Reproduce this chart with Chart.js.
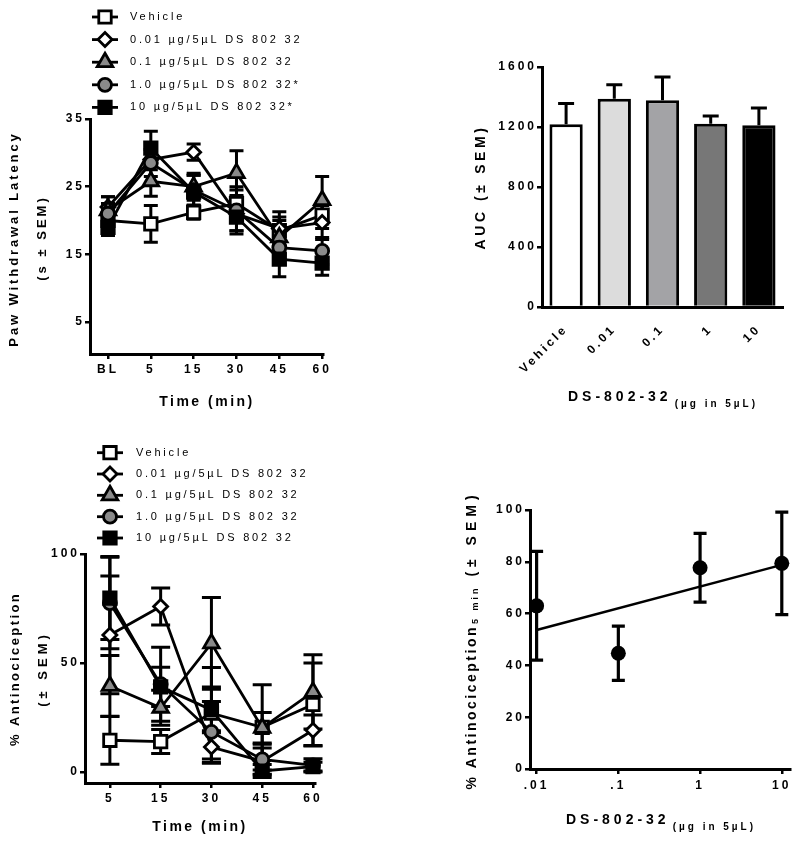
<!DOCTYPE html>
<html><head><meta charset="utf-8">
<script src="https://cdn.jsdelivr.net/npm/chart.js@4.4.1/dist/chart.umd.min.js"></script>
<style>
html,body{margin:0;padding:0;background:#fff}
body{width:800px;height:844px;position:relative;overflow:hidden}
.p{position:absolute}
</style></head><body>
<div class="p" style="left:0;top:0;width:400px;height:420px"><canvas id="c1"></canvas></div>
<div class="p" style="left:400px;top:0;width:400px;height:420px"><canvas id="c2"></canvas></div>
<div class="p" style="left:0;top:420px;width:400px;height:424px"><canvas id="c3"></canvas></div>
<div class="p" style="left:400px;top:420px;width:400px;height:424px"><canvas id="c4"></canvas></div>
<script>
// ---------------- DATA ----------------
const timeLabelsA = ['BL', '5', '15', '30', '45', '60'];
const timeLabelsC = ['5', '15', '30', '45', '60'];
const seriesNamesA = ['Vehicle', '0.01 µg/5µL DS 802 32', '0.1 µg/5µL DS 802 32', '1.0 µg/5µL DS 802 32*', '10 µg/5µL DS 802 32*'];
const seriesNamesC = ['Vehicle', '0.01 µg/5µL DS 802 32', '0.1 µg/5µL DS 802 32', '1.0 µg/5µL DS 802 32', '10 µg/5µL DS 802 32'];

// Panel A: paw withdrawal latency (s)
const pwlVehicle = [20.0, 19.5, 21.2, 22.5, 18.5, 20.8];
const pwlVehicleSem = [1.5, 2.7, 1.0, 2.5, 2.0, 2.0];
const pwl001 = [22.0, 29.0, 30.1, 21.0, 18.8, 19.7];
const pwl001Sem = [1.5, 1.5, 1.2, 2.5, 2.5, 2.5];
const pwl01 = [21.5, 25.8, 25.0, 27.0, 17.5, 23.0];
const pwl01Sem = [2.0, 2.2, 2.0, 3.3, 2.5, 3.5];
const pwl1 = [21.0, 28.5, 24.5, 21.5, 16.0, 15.5];
const pwl1Sem = [1.5, 2.0, 2.2, 3.0, 2.5, 2.0];
const pwl10 = [19.0, 30.7, 24.2, 20.5, 14.3, 13.7];
const pwl10Sem = [1.2, 2.5, 2.5, 2.5, 2.6, 1.8];

// Panel B: AUC
const aucLabels = ['Vehicle', '0.01', '0.1', '1', '10'];
const aucValues = [1218, 1389, 1378, 1222, 1211];
const aucSem = [138, 93, 155, 51, 116];

// Panel C: % antinociception
const mpeVehicle = [14.6, 14.0, 27.0, 20.5, 31.0];
const mpeVehicleSem = [11, 5.5, 21, 19.5, 19];
const mpe001 = [62.9, 75.9, 11.5, 5.0, 19.2];
const mpe001Sem = [27, 8.5, 7.5, 6, 7];
const mpe01 = [39.5, 29.5, 59.0, 20.3, 36.8];
const mpe01Sem = [14, 8, 21, 7, 17];
const mpe1 = [77.5, 40.3, 18.4, 5.8, 3.1];
const mpe1Sem = [21, 17, 14, 7, 3];
const mpe10 = [79.8, 39.1, 28.5, 0.5, 2.5];
const mpe10Sem = [19, 9, 10.5, 3, 2];

// Panel D: dose response at 5 min
const doses = [0.01, 0.1, 1, 10];
const doseTickLabels = ['.01', '.1', '1', '10'];
const mpe5 = [63.0, 44.7, 77.7, 79.4];
const mpe5Sem = [21, 10.5, 13.3, 19.8];
const fitDoses = [0.01, 10];
const fitValues = [53.7, 78.8];

// ---------------- STYLES ----------------
const FAM = '"Liberation Sans", Arial, Helvetica, sans-serif';
Chart.defaults.font.family = FAM;
Chart.defaults.color = '#000';
Chart.defaults.animation = false;

const markerStyles = [
  {pointStyle: 'rect', radius: 8.8, bg: '#ffffff'},
  {pointStyle: 'rectRot', radius: 7, bg: '#ffffff'},
  {pointStyle: 'triangle', radius: 9, bg: '#8a8a8a'},
  {pointStyle: 'circle', radius: 6.5, bg: '#8a8a8a'},
  {pointStyle: 'rect', radius: 8.8, bg: '#000000'}
];
const barColors = ['#ffffff', '#dcdcdc', '#a3a3a6', '#777777', '#000000'];

function drawMarker(ctx, st, x, y) {
  const r = st.radius;
  ctx.save();
  ctx.fillStyle = st.bg; ctx.strokeStyle = '#000'; ctx.lineWidth = 2.8;
  ctx.beginPath();
  if (st.pointStyle === 'circle') ctx.arc(x, y, r, 0, Math.PI * 2);
  else if (st.pointStyle === 'rect') { const s = r * Math.SQRT1_2; ctx.rect(x - s, y - s, 2 * s, 2 * s); }
  else if (st.pointStyle === 'rectRot') { ctx.moveTo(x - r, y); ctx.lineTo(x, y - r); ctx.lineTo(x + r, y); ctx.lineTo(x, y + r); ctx.closePath(); }
  else if (st.pointStyle === 'triangle') {
    for (let k = 0; k < 3; k++) { const a = k * 2 * Math.PI / 3; const px = x + Math.sin(a) * r, py = y - Math.cos(a) * r; k ? ctx.lineTo(px, py) : ctx.moveTo(px, py); }
    ctx.closePath();
  }
  ctx.fill(); ctx.stroke(); ctx.restore();
}

function txt(ctx, s, x, y, o) {
  ctx.save();
  ctx.font = o.font; ctx.fillStyle = '#000';
  if ('letterSpacing' in ctx) ctx.letterSpacing = (o.ls || 0) + 'px';
  ctx.textBaseline = o.base || 'middle';
  ctx.textAlign = o.align || 'left';
  ctx.translate(x, y); if (o.rot) ctx.rotate(o.rot);
  ctx.fillText(s, 0, 0);
  ctx.restore();
}
function measure(ctx, s, o) {
  ctx.save(); ctx.font = o.font; if ('letterSpacing' in ctx) ctx.letterSpacing = (o.ls || 0) + 'px';
  const w = ctx.measureText(s).width; ctx.restore(); return w;
}
function parts(ctx, list, cx, cy, rot) {
  const widths = list.map(p => measure(ctx, p.s, p));
  const total = widths.reduce((a, b) => a + b, 0) + list.reduce((a, p) => a + (p.gap || 0), 0);
  ctx.save(); ctx.translate(cx, cy); if (rot) ctx.rotate(rot);
  let x = -total / 2;
  list.forEach((p, i) => { x += (p.gap || 0); txt(ctx, p.s, x, p.dy || 0, Object.assign({}, p, {align: 'left'})); x += widths[i]; });
  ctx.restore();
}

const errPlugin = {
  id: 'errbars',
  beforeDatasetsDraw(chart) { drawErr(chart, false); },
  afterDatasetsDraw(chart) { drawErr(chart, true); }
};
function drawErr(chart, after) {
  const ctx = chart.ctx;
  chart.data.datasets.forEach((ds, di) => {
    if (!ds.errors || !!ds.errAfter !== after) return;
    const meta = chart.getDatasetMeta(di);
    const ys = chart.scales[meta.yAxisID];
    ctx.save(); ctx.strokeStyle = '#000'; ctx.lineWidth = ds.errWidth || 3; ctx.lineCap = 'butt';
    meta.data.forEach((el, i) => {
      const e = ds.errors[i]; if (e == null) return;
      const v = meta.controller.getParsed(i).y;
      const x = el.x, cap = ds.errCap || 7;
      const yT = ys.getPixelForValue(v + e);
      const yB = ds.errUpOnly ? ys.getPixelForValue(v) : ys.getPixelForValue(v - e);
      ctx.beginPath();
      ctx.moveTo(x, yT); ctx.lineTo(x, yB);
      ctx.moveTo(x - cap, yT); ctx.lineTo(x + cap, yT);
      if (!ds.errUpOnly) { ctx.moveTo(x - cap, yB); ctx.lineTo(x + cap, yB); }
      ctx.stroke();
    });
    ctx.restore();
  });
}
const spacingPlugin = { id: 'spacing', beforeDraw(chart) { if ('letterSpacing' in chart.ctx) chart.ctx.letterSpacing = '3px'; } };

const tickFont = {size: 12, weight: 'bold'};
function axisGrid(len) { return {display: true, drawOnChartArea: false, drawTicks: true, tickLength: len, color: '#000', lineWidth: 2.5}; }
const axisBorder = {display: true, color: '#000', width: 3};

function timeDatasets(names, vals, sems, capW) {
  return vals.map((arr, k) => ({
    label: names[k],
    data: arr.map((v, i) => ({x: i, y: v})),
    errors: sems[k], errCap: capW,
    borderColor: '#000', borderWidth: 2.8, tension: 0, fill: false, clip: false,
    pointStyle: markerStyles[k].pointStyle, pointRadius: markerStyles[k].radius,
    pointBackgroundColor: markerStyles[k].bg, pointBorderColor: '#000', pointBorderWidth: 2.8,
    order: vals.length - k
  }));
}
function legendPlugin(names, rows, mx, lx1, lx2, tx) {
  return { id: 'lg', afterDraw(chart) {
    const ctx = chart.ctx;
    names.forEach((n, k) => {
      const y = rows[k];
      ctx.save(); ctx.strokeStyle = '#000'; ctx.lineWidth = 2.8;
      ctx.beginPath(); ctx.moveTo(lx1, y); ctx.lineTo(lx2, y); ctx.stroke(); ctx.restore();
      drawMarker(ctx, markerStyles[k], mx, y);
      txt(ctx, n, tx, y, {font: '11px ' + FAM, ls: 2.8});
    });
  }};
}

// ---------------- PANEL A ----------------
new Chart(document.getElementById('c1'), {
  type: 'line',
  data: { datasets: timeDatasets(seriesNamesA, [pwlVehicle, pwl001, pwl01, pwl1, pwl10], [pwlVehicleSem, pwl001Sem, pwl01Sem, pwl1Sem, pwl10Sem], 7) },
  options: {
    responsive: true, maintainAspectRatio: false,
    layout: {padding: {left: 0, top: 119, right: 77, bottom: 0}},
    plugins: {legend: {display: false}, tooltip: {enabled: false}},
    scales: {
      x: { type: 'linear', min: -0.42, max: 5.02,
        afterBuildTicks: s => { s.ticks = timeLabelsA.map((_, i) => ({value: i})); },
        ticks: {callback: v => timeLabelsA[Math.round(v)], font: tickFont, padding: 3, maxRotation: 0, autoSkip: false},
        grid: axisGrid(5), border: axisBorder, afterFit: s => { s.height = 66; } },
      y: { type: 'linear', min: 0.27, max: 35,
        afterBuildTicks: s => { s.ticks = [5, 15, 25, 35].map(v => ({value: v})); },
        ticks: {font: tickFont, padding: 0, callback: v => String(v)},
        grid: axisGrid(5), border: axisBorder, afterFit: s => { s.width = 90; } }
    }
  },
  plugins: [spacingPlugin, errPlugin, legendPlugin(seriesNamesA, [17, 39.6, 62.2, 84.8, 107.4], 105, 92, 118, 130), {
    id: 'titlesA', afterDraw(chart) {
      const ctx = chart.ctx;
      parts(ctx, [{s: 'Paw Withdrawal Latency', font: 'bold 13px ' + FAM, ls: 2.9}], 14, 239, -Math.PI / 2);
      parts(ctx, [{s: '(s ± SEM)', font: 'bold 13px ' + FAM, ls: 3}], 42, 238, -Math.PI / 2);
      parts(ctx, [{s: 'Time (min)', font: 'bold 14px ' + FAM, ls: 2.5}], 207, 402, 0);
    }
  }]
});

// ---------------- PANEL B ----------------
new Chart(document.getElementById('c2'), {
  type: 'bar',
  data: { labels: aucLabels, datasets: [{
    data: aucValues, errors: aucSem, errUpOnly: true, errAfter: true, errCap: 8, errWidth: 3,
    backgroundColor: barColors, borderColor: '#000', borderWidth: 3, borderSkipped: 'bottom',
    barPercentage: 0.69, categoryPercentage: 1
  }]},
  options: {
    responsive: true, maintainAspectRatio: false,
    layout: {padding: {left: 0, top: 67, right: 17, bottom: 0}},
    plugins: {legend: {display: false}, tooltip: {enabled: false}},
    scales: {
      x: { grid: {display: false}, border: axisBorder,
        ticks: {font: {size: 12, weight: 'bold'}, minRotation: 45, maxRotation: 45, autoSkip: false, padding: 7},
        afterFit: s => { s.height = 113; } },
      y: { min: 0, max: 1600, ticks: {stepSize: 400, font: {size: 12, weight: 'bold'}, padding: 0, callback: v => String(v)},
        grid: axisGrid(5), border: axisBorder, afterFit: s => { s.width = 142; } }
    }
  },
  plugins: [spacingPlugin, errPlugin, {
    id: 'titlesB', afterDraw(chart) {
      const ctx = chart.ctx;
      parts(ctx, [{s: 'AUC (± SEM)', font: 'bold 14px ' + FAM, ls: 3.6}], 81, 187, -Math.PI / 2);
      parts(ctx, [{s: 'DS-802-32', font: 'bold 14px ' + FAM, ls: 4}, {s: '(µg in 5µL)', font: 'bold 10px ' + FAM, ls: 3, gap: 3, dy: 7}], 263, 397, 0);
    }
  }]
});

// ---------------- PANEL C ----------------
new Chart(document.getElementById('c3'), {
  type: 'line',
  data: { datasets: timeDatasets(seriesNamesC, [mpeVehicle, mpe001, mpe01, mpe1, mpe10], [mpeVehicleSem, mpe001Sem, mpe01Sem, mpe1Sem, mpe10Sem], 9.5) },
  options: {
    responsive: true, maintainAspectRatio: false,
    layout: {padding: {left: 0, top: 134, right: 85, bottom: 0}},
    plugins: {legend: {display: false}, tooltip: {enabled: false}},
    scales: {
      x: { type: 'linear', min: -0.49, max: 4.04,
        afterBuildTicks: s => { s.ticks = timeLabelsC.map((_, i) => ({value: i})); },
        ticks: {callback: v => timeLabelsC[Math.round(v)], font: tickFont, padding: 3, maxRotation: 0, autoSkip: false},
        grid: axisGrid(5), border: axisBorder, afterFit: s => { s.height = 61; } },
      y: { type: 'linear', min: -5, max: 100,
        afterBuildTicks: s => { s.ticks = [0, 50, 100].map(v => ({value: v})); },
        ticks: {font: tickFont, padding: 0, callback: v => String(v)},
        grid: axisGrid(5), border: axisBorder, afterFit: s => { s.width = 85; } }
    }
  },
  plugins: [spacingPlugin, errPlugin, legendPlugin(seriesNamesC, [32.7, 54, 75.3, 96.7, 118], 110, 97, 123, 136), {
    id: 'titlesC', afterDraw(chart) {
      const ctx = chart.ctx;
      parts(ctx, [{s: '% Antinociception', font: 'bold 13px ' + FAM, ls: 2.4}], 15, 249, -Math.PI / 2);
      parts(ctx, [{s: '(± SEM)', font: 'bold 13px ' + FAM, ls: 4}], 43, 249, -Math.PI / 2);
      parts(ctx, [{s: 'Time (min)', font: 'bold 14px ' + FAM, ls: 2.5}], 200, 407, 0);
    }
  }]
});

// ---------------- PANEL D ----------------
new Chart(document.getElementById('c4'), {
  type: 'scatter',
  data: { datasets: [
    { data: doses.map((d, i) => ({x: d, y: mpe5[i]})), errors: mpe5Sem, errCap: 6.5, errWidth: 3.2,
      pointStyle: 'circle', pointRadius: 7.5, pointBackgroundColor: '#000', pointBorderColor: '#000', pointBorderWidth: 0, clip: false, order: 1 },
    { data: fitDoses.map((d, i) => ({x: d, y: fitValues[i]})), showLine: true, borderColor: '#000', borderWidth: 2.5,
      pointRadius: 0, tension: 0, clip: false, order: 0 }
  ]},
  options: {
    responsive: true, maintainAspectRatio: false,
    layout: {padding: {left: 0, top: 90, right: 10, bottom: 0}},
    plugins: {legend: {display: false}, tooltip: {enabled: false}},
    scales: {
      x: { type: 'logarithmic', min: 0.0083, max: 12.6,
        afterBuildTicks: s => { s.ticks = doses.map(v => ({value: v})); },
        ticks: {callback: (v, i) => doseTickLabels[i], font: tickFont, padding: 4, maxRotation: 0, autoSkip: false},
        grid: axisGrid(5), border: axisBorder, afterFit: s => { s.height = 75; } },
      y: { type: 'linear', min: 0, max: 100, ticks: {stepSize: 20, font: tickFont, padding: 0, callback: v => String(v)},
        grid: axisGrid(5), border: axisBorder, afterFit: s => { s.width = 130; } }
    }
  },
  plugins: [spacingPlugin, errPlugin, {
    id: 'titlesD', afterDraw(chart) {
      const ctx = chart.ctx;
      parts(ctx, [
        {s: '% Antinociception', font: 'bold 14px ' + FAM, ls: 2.5},
        {s: '5 min', font: 'bold 9px ' + FAM, ls: 3, dy: 4, gap: 1},
        {s: ' (± SEM)', font: 'bold 14px ' + FAM, ls: 5}
      ], 72, 220, -Math.PI / 2);
      parts(ctx, [{s: 'DS-802-32', font: 'bold 14px ' + FAM, ls: 4}, {s: '(µg in 5µL)', font: 'bold 10px ' + FAM, ls: 3, gap: 3, dy: 7}], 261, 400, 0);
    }
  }]
});
</script>
</body></html>
